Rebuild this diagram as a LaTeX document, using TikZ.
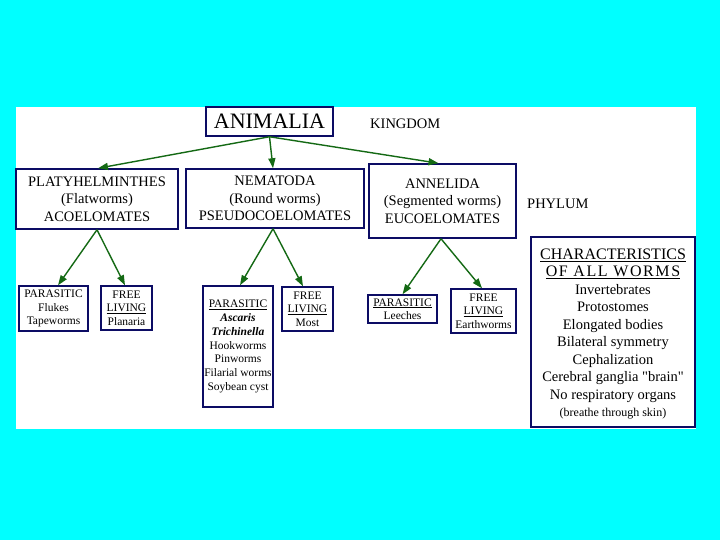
\documentclass[tikz,border=0pt]{standalone}
\usepackage{fontspec}
\setmainfont{Liberation Serif}
\usetikzlibrary{arrows.meta}
\definecolor{bgcyan}{RGB}{0,255,255}
\definecolor{navy}{RGB}{12,12,100}
\definecolor{arrowgreen}{RGB}{20,105,20}
\newcommand\fsz[2]{\fontsize{#1}{#2}\selectfont}
\begin{document}
\begin{tikzpicture}[x=1pt,y=-1pt,
  box/.style={draw=navy,line width=1.5pt,fill=white,inner sep=0pt,align=center,font=\fsz{14.5}{17.5}},
  small/.style={box,line width=1.4pt,font=\fsz{11.5}{13.5}},
  conn/.style={draw=arrowgreen,line width=1.4pt,-{Triangle[length=10pt,width=7pt]}},
  lbl/.style={inner sep=0pt,font=\fsz{14.5}{17}}]
\fill[bgcyan] (0,0) rectangle (720,540);
\fill[white] (16,107) rectangle (696,429);
\useasboundingbox (0,0) rectangle (720,540);

% kingdom
\node[box,minimum width=127pt,minimum height=29pt,font=\fsz{22}{24}] (anim) at (269.5,121.5) {ANIMALIA};
\node[lbl,anchor=west] (king) at (370,124) {KINGDOM};

% phyla
\node[box,minimum width=162pt,minimum height=60pt] (platy) at (97,199) {PLATYHELMINTHES\\(Flatworms)\\ACOELOMATES};
\node[box,minimum width=178pt,minimum height=59pt] (nema) at (275,198.5) {NEMATODA\\(Round worms)\\PSEUDOCOELOMATES};
\node[box,minimum width=147pt,minimum height=74pt] (anne) at (442.5,201) {ANNELIDA\\(Segmented worms)\\EUCOELOMATES};
\node[lbl,anchor=west] (phyl) at (527,204) {PHYLUM};

% sub-groups
\node[small,minimum width=69pt,minimum height=45pt] (pp) at (53.5,308.5) {PARASITIC\\Flukes\\Tapeworms};
\node[small,minimum width=51pt,minimum height=44pt] (pf) at (126.5,308) {FREE\\\underline{LIVING}\\Planaria};
\node[small,minimum width=70pt,minimum height=121pt,font=\fsz{11.5}{13.8}] (np) at (238,346.5) {\underline{PARASITIC}\\\textbf{\textit{Ascaris}}\\\textbf{\textit{Trichinella}}\\Hookworms\\Pinworms\\Filarial worms\\Soybean cyst};
\node[small,minimum width=51pt,minimum height=44pt] (nf) at (307.5,309) {FREE\\\underline{LIVING}\\Most};
\node[small,minimum width=69pt,minimum height=28pt] (ap) at (402.5,309) {\underline{PARASITIC}\\Leeches};
\node[small,minimum width=65pt,minimum height=44pt] (af) at (483.5,311) {FREE\\\underline{LIVING}\\Earthworms};

% characteristics
\node[draw=navy,line width=1.2pt,fill=white,minimum width=164pt,minimum height=190pt,inner sep=0pt] (ch) at (613,332) {};
\node[inner sep=0pt,align=center,font=\fsz{14.5}{17.5}] (chtext) at (613,334) {{\fsz{16}{17.5}\underline{CHARACTERISTICS}}\\{\fsz{16}{17.5}\addfontfeature{LetterSpace=10}\underline{OF ALL WORMS}}\\Invertebrates\\Protostomes\\Elongated bodies\\Bilateral symmetry\\Cephalization\\Cerebral ganglia \textquotedbl brain\textquotedbl\\No respiratory organs\\{\fsz{12}{17.5}(breathe through skin)}};

% connectors
\draw[conn] (anim.south) -- ([xshift=1pt]platy.north);
\draw[conn] (anim.south) -- ([xshift=-2pt]nema.north);
\draw[conn] (anim.south) -- ([xshift=-4pt]anne.north);
\draw[conn] (platy.south) -- ([xshift=4.5pt]pp.north);
\draw[conn] (platy.south) -- ([xshift=-1.5pt]pf.north);
\draw[conn] ([xshift=-2pt]nema.south) -- ([xshift=2pt]np.north);
\draw[conn] ([xshift=-2pt]nema.south) -- ([xshift=-4.5pt]nf.north);
\draw[conn] ([xshift=-1.5pt]anne.south) -- (ap.north);
\draw[conn] ([xshift=-1.5pt]anne.south) -- ([xshift=-1.5pt]af.north);
\end{tikzpicture}
\end{document}
